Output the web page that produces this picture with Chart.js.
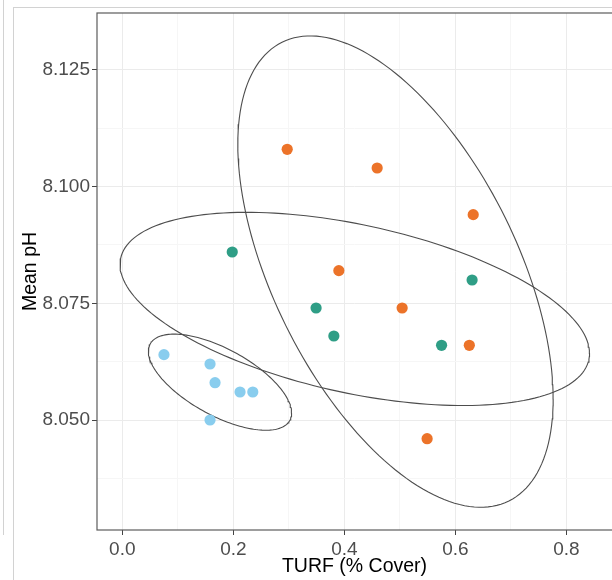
<!DOCTYPE html>
<html>
<head>
<meta charset="utf-8">
<script src="https://cdn.jsdelivr.net/npm/chart.js@4.4.0/dist/chart.umd.min.js"></script>
<style>
  html, body { margin: 0; padding: 0; background: #fff; }
  #wrap { position: relative; width: 612px; height: 580px; overflow: hidden; }
  #chart { position: absolute; left: 0; top: 0; }
  .edgeA { position: absolute; left: 3px; top: 0; height: 535px; border-left: 1px solid #d2d2d2; }
  .edgeB { position: absolute; left: 13px; top: 7px; right: 0; bottom: 0; border-left: 1px solid #d2d2d2; border-top: 1px solid #d2d2d2; }
</style>
</head>
<body>
<div id="wrap">
  <div class="edgeA"></div>
  <div class="edgeB"></div>
  <canvas id="chart" width="612" height="580"></canvas>
</div>
<script>
// points
const turfOrange = [0.297, 0.459, 0.632, 0.390, 0.504, 0.625, 0.549];
const phOrange   = [8.108, 8.104, 8.094, 8.082, 8.074, 8.066, 8.046];
const turfTeal   = [0.198, 0.630, 0.349, 0.381, 0.575];
const phTeal     = [8.086, 8.080, 8.074, 8.068, 8.066];
const turfBlue   = [0.075, 0.158, 0.167, 0.212, 0.235, 0.158];
const phBlue     = [8.064, 8.062, 8.058, 8.056, 8.056, 8.050];

const xTicks = [0, 0.2, 0.4, 0.6, 0.8];
const yTicks = [8.050, 8.075, 8.100, 8.125];

// ellipses: centre x, centre y, half width, half height, correlation
const ellipseOrange = [0.492, 8.0818, 0.284, 0.0505, -0.54];
const ellipseTeal   = [0.4187, 8.0738, 0.4228, 0.0207, -0.46];
const ellipseBlue   = [0.1759, 8.0581, 0.129, 0.0103, -0.64];

const colOrange = '#EC7329';
const colTeal = '#2F9E86';
const colBlue = '#89CDEE';

const xMin = -0.0456, xMax = 0.882;
const yMin = 8.02643, yMax = 8.13721;

function pts(xs, ys) { return xs.map((x, i) => ({ x: x, y: ys[i] })); }

function ellipse(e) {
  const [cx, cy, hw, hh, r] = e;
  const s = Math.sqrt(1 - r * r);
  const out = [];
  for (let a = 0; a <= 360; a += 2) {
    const t = a * Math.PI / 180;
    out.push({ x: cx + hw * Math.cos(t), y: cy + hh * (r * Math.cos(t) + s * Math.sin(t)) });
  }
  return out;
}

function withMinor(major, step) {
  const all = [];
  major.forEach(v => { all.push(v - step / 2); all.push(v); });
  all.push(major[major.length - 1] + step / 2);
  return all;
}
function isMajor(list, v) { return list.some(m => Math.abs(m - v) < 1e-9); }

const xAll = withMinor(xTicks, 0.2).filter(v => v > xMin && v < xMax);
const yAll = withMinor(yTicks, 0.025).filter(v => v > yMin && v < yMax);

const font = 'Liberation Sans, Arial, sans-serif';

const dot = (label, data, col) => ({
  label: label, data: data, backgroundColor: col, borderWidth: 0,
  pointRadius: 5.6, pointHoverRadius: 5.6, showLine: false
});
const ring = (label, data) => ({
  label: label, data: data, showLine: true, borderColor: '#4d4d4d', borderWidth: 1.1,
  pointRadius: 0, fill: false, tension: 0
});

const border = {
  id: 'panelBorder',
  afterDraw(chart) {
    const a = chart.chartArea, ctx = chart.ctx;
    ctx.save();
    ctx.strokeStyle = '#5c5c5c';
    ctx.lineWidth = 1.2;
    ctx.strokeRect(a.left, a.top, a.right - a.left + 5, a.bottom - a.top);
    ctx.restore();
  }
};

new Chart(document.getElementById('chart'), {
  type: 'scatter',
  data: {
    datasets: [
      dot('orange', pts(turfOrange, phOrange), colOrange),
      dot('teal', pts(turfTeal, phTeal), colTeal),
      dot('blue', pts(turfBlue, phBlue), colBlue),
      ring('orange ellipse', ellipse(ellipseOrange)),
      ring('teal ellipse', ellipse(ellipseTeal)),
      ring('blue ellipse', ellipse(ellipseBlue))
    ]
  },
  options: {
    responsive: false,
    animation: false,
    layout: { autoPadding: false, padding: { left: 0, right: 0, top: 13, bottom: 0 } },
    plugins: { legend: { display: false }, tooltip: { enabled: false } },
    scales: {
      x: {
        type: 'linear', min: xMin, max: xMax,
        afterBuildTicks: s => { s.ticks = xAll.map(v => ({ value: v })); },
        afterFit: s => { s.height = 50; s.paddingLeft = 0; s.paddingRight = 0; },
        border: { display: false },
        grid: {
          color: c => isMajor(xTicks, c.tick.value) ? '#ebebeb' : '#f6f6f6',
          tickColor: c => isMajor(xTicks, c.tick.value) ? '#444' : 'rgba(0,0,0,0)',
          tickLength: 5
        },
        ticks: {
          autoSkip: false, maxRotation: 0, padding: 3, color: '#4d4d4d',
          font: { family: font, size: 19 },
          callback: v => isMajor(xTicks, v) ? v.toFixed(1) : ''
        },
        title: {
          display: true, text: 'TURF (% Cover)', color: '#000',
          font: { family: font, size: 19.5 }, padding: { top: 0, bottom: 2 }
        }
      },
      y: {
        type: 'linear', min: yMin, max: yMax,
        afterBuildTicks: s => { s.ticks = yAll.map(v => ({ value: v })); },
        afterFit: s => { s.width = 97; s.paddingTop = 0; s.paddingBottom = 0; },
        border: { display: false },
        grid: {
          color: c => isMajor(yTicks, c.tick.value) ? '#ebebeb' : '#f6f6f6',
          tickColor: c => isMajor(yTicks, c.tick.value) ? '#444' : 'rgba(0,0,0,0)',
          tickLength: 5
        },
        ticks: {
          autoSkip: false, padding: 2, color: '#4d4d4d',
          font: { family: font, size: 19 },
          callback: v => isMajor(yTicks, v) ? v.toFixed(3) : ''
        },
        title: {
          display: true, text: 'Mean pH', color: '#000',
          font: { family: font, size: 19.5 }, padding: { top: 19, bottom: 0 }
        }
      }
    }
  },
  plugins: [border]
});
</script>
</body>
</html>
